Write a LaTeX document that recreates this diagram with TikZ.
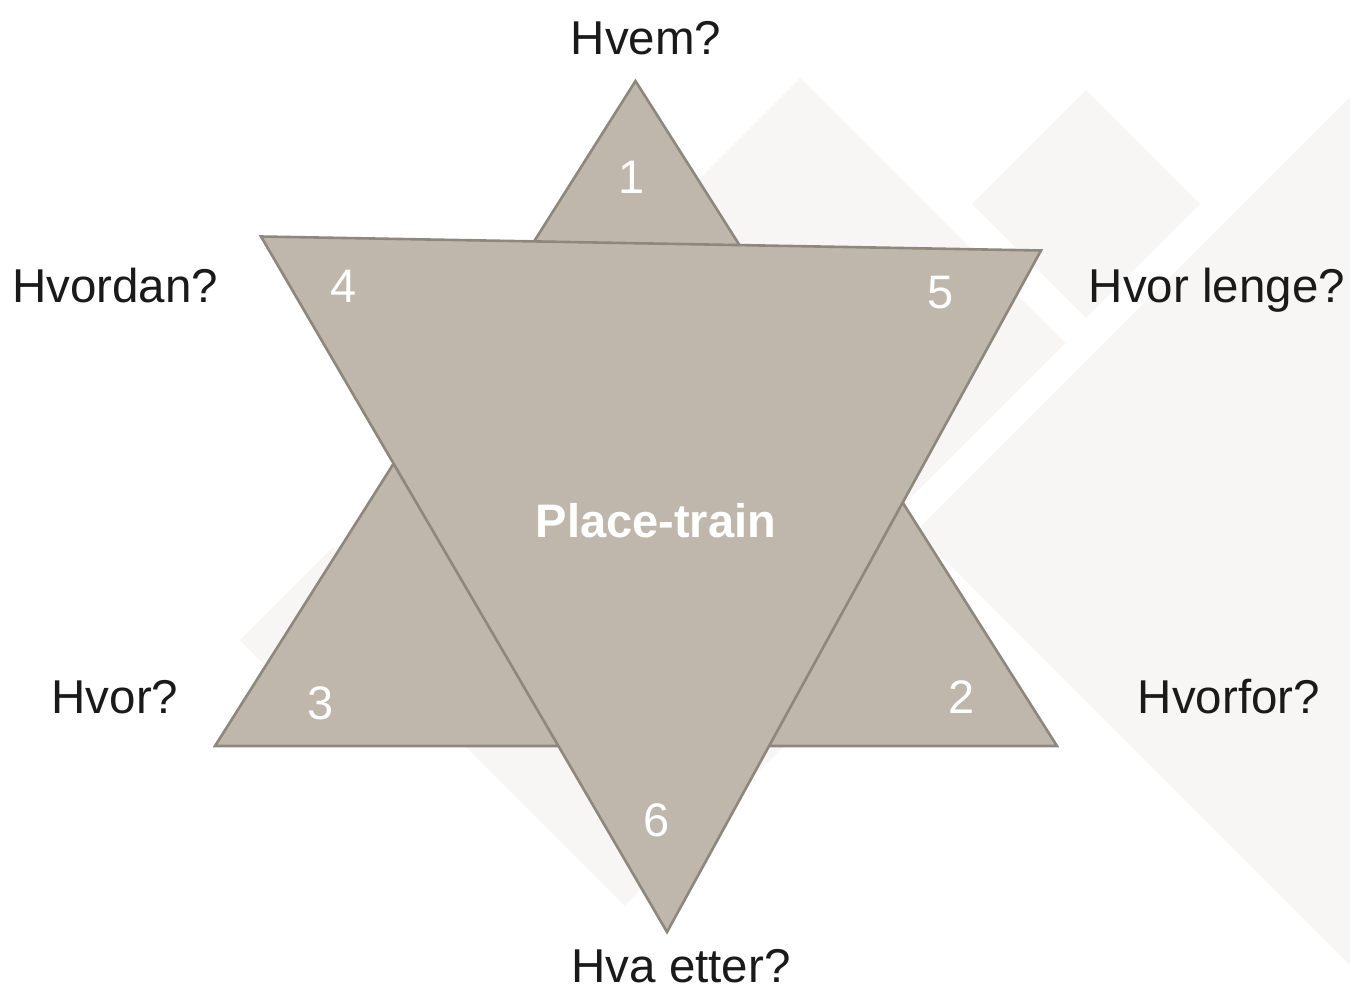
\documentclass[tikz,border=0pt]{standalone}
\usepackage{fontspec}
\setmainfont{Liberation Sans}
\definecolor{bgshape}{HTML}{F7F6F4}
\definecolor{trifill}{HTML}{BFB7AC}
\definecolor{triedge}{HTML}{8E877D}
\definecolor{labeltext}{HTML}{1A1A1A}
\tikzset{
  tri/.style={fill=trifill, draw=triedge, line width=2.6pt, line join=miter},
  bgdiamond/.style={fill=bgshape, draw=none},
  qlabel/.style={anchor=base, inner sep=0pt, text=labeltext, font=\fontsize{47.5}{56}\selectfont},
  num/.style={anchor=base, inner sep=0pt, text=white, font=\fontsize{47}{56}\selectfont},
  title/.style={anchor=base, inner sep=0pt, text=white, font=\fontsize{47}{56}\selectfont\bfseries}
}
\begin{document}
\begin{tikzpicture}[x=1pt,y=-1pt]
\useasboundingbox (0,0) rectangle (1350,989);
\fill[white] (0,0) rectangle (1350,989);
\begin{scope}
\clip (0,0) rectangle (1350,989);
% background diamonds
\fill[bgdiamond] (800,78) -- (1065,343) -- (800,608) -- (535,343) -- cycle;
\fill[bgdiamond] (1086,90) -- (1200,204) -- (1086,318) -- (972,204) -- cycle;
\fill[bgdiamond] (916,531) -- (1516,-69) -- (2116,531) -- (1516,1131) -- cycle;
\fill[bgdiamond] (333,547) -- (426,640) -- (333,733) -- (240,640) -- cycle;
\fill[bgdiamond] (624.5,375.5) -- (889.5,640.5) -- (624.5,905.5) -- (359.5,640.5) -- cycle;
\end{scope}
% star
\coordinate (uA) at (635.5,81);
\coordinate (uL) at (215,746);
\coordinate (uR) at (1057,746);
\coordinate (dL) at (261,236.5);
\coordinate (dR) at (1041,250.5);
\coordinate (dB) at (667,932);
\draw[tri] (uA) -- (uR) -- (uL) -- cycle;
\draw[tri] (dL) -- (dR) -- (dB) -- cycle;
% numbers
\node[num] (n1) at (632,193) {1};
\node[num] (n4) at (344,302) {4};
\node[num] (n5) at (941,308) {5};
\node[num] (n3) at (321,719) {3};
\node[num] (n2) at (962,713) {2};
\node[num] (n6) at (657,836) {6};
\node[title] (center) at (656,537) {Place-train};
% labels
\node[qlabel] (who) at (646,54) {Hvem?};
\node[qlabel] (how) at (115,302) {Hvordan?};
\node[qlabel] (howlong) at (1217,302) {Hvor lenge?};
\node[qlabel] (where) at (115,713) {Hvor?};
\node[qlabel] (why) at (1229,713) {Hvorfor?};
\node[qlabel] (after) at (681,982) {Hva etter?};
\end{tikzpicture}
\end{document}
